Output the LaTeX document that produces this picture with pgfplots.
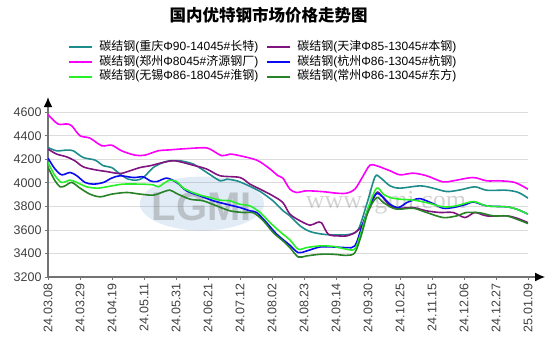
\documentclass[border=0pt]{standalone}
\usepackage{pgfplots}
\pgfplotsset{compat=1.18}
\usetikzlibrary{arrows.meta}
\usepackage{fontspec}
\setmainfont{Liberation Sans}
\newfontfamily\cjk{Noto Sans CJK SC}
\newfontfamily\wmfont{Liberation Serif}
\definecolor{cTeal}{RGB}{30,140,140}
\definecolor{cPurple}{RGB}{128,20,128}
\definecolor{cMag}{RGB}{250,0,250}
\definecolor{cBlue}{RGB}{10,10,240}
\definecolor{cLime}{RGB}{40,240,40}
\definecolor{cDkg}{RGB}{40,130,40}
\newcommand{\lw}{163pt}
\begin{document}
\begin{tikzpicture}
\path[use as bounding box] (0,0) rectangle (554pt,353pt);
\node[font=\cjk\bfseries\fontsize{16.5}{18}\selectfont] at (268.5pt,337.5pt) {国内优特钢市场价格走势图};
\begin{axis}[
  at={(48pt,76pt)}, anchor=south west,
  scale only axis, width=480pt, height=164.8pt,
  xmin=0, xmax=15, ymin=3200, ymax=4600,
  axis lines=left,
  axis line style={draw=black!55, line width=1.2pt},
  x axis line style={-{Latex[black,length=10pt,width=9pt]}, shorten >=-17pt},
  y axis line style={-{Latex[black,length=10pt,width=9pt]}, shorten >=-15pt},
  tick align=outside, major tick length=3pt,
  tick style={black!55, line width=0.8pt},
  ymajorgrids, grid style={black!14, line width=0.8pt},
  xtick={0,...,15},
  xticklabels={24.03.08,24.03.29,24.04.19,24.05.11,24.05.31,24.06.21,24.07.12,24.08.02,24.08.23,24.09.14,24.09.30,24.10.25,24.11.15,24.12.06,24.12.27,25.01.09},
  xticklabel style={rotate=90, anchor=east, font=\fontsize{12.5}{14}\selectfont, text=black!75},
  ytick={3200,3400,...,4600},
  yticklabel style={font=\fontsize{12.5}{14}\selectfont, text=black!75},
  /pgf/number format/assume math mode=true,
  /pgf/number format/1000 sep={},
  legend columns=2,
  legend style={draw=none, fill=none, at={(0.042,1.439)}, anchor=north west,
    font=\fontsize{12}{14}\selectfont, inner sep=0pt, row sep=0pt,
    nodes={inner sep=1pt, text height=9.5pt, text depth=3.2pt},
    /tikz/every odd column/.append style={column sep=5pt},
    /tikz/every even column/.append style={column sep=3pt}},
  legend image code/.code={\draw[#1, line width=2pt] (0pt,0pt) -- (23pt,0pt);},
  every axis plot/.append style={line width=1.6pt, smooth, tension=0.5},
]
% watermark
\fill[cyan!50!blue, opacity=0.13] (axis cs:4.81,3824) ellipse [x radius=62pt, y radius=27pt];
\node[text=gray, opacity=0.4, font=\bfseries\fontsize{40}{40}\selectfont] at (axis cs:4.81,3800) {LGMI};
\node[text=gray, opacity=0.35, font=\wmfont\fontsize{26}{26}\selectfont] at (axis cs:10.56,3833) {www.lgmi.com};

\addplot[cTeal] coordinates {(0,4300) (0.27,4272) (0.58,4278) (0.79,4272) (1.10,4215) (1.47,4193) (1.73,4145) (1.99,4130) (2.25,4074) (2.51,4031) (2.77,4023) (2.98,4045) (3.29,4130) (3.60,4173) (3.81,4187) (4.13,4187) (4.54,4159) (4.96,4088) (5.38,4017) (5.58,4031) (5.90,4017) (6.21,3983) (6.63,3926) (7.03,3847) (7.35,3762) (7.56,3719) (7.88,3634) (8.19,3586) (8.60,3563) (9.02,3557) (9.44,3563) (9.70,3606) (9.96,3818) (10.22,4051) (10.38,4045) (10.69,3974) (11.0,3955) (11.63,3974) (12.03,3955) (12.46,3926) (12.88,3940) (13.34,3966) (13.71,3937) (14.33,3937) (14.70,3918) (15,3870)};
\addlegendentry{\makebox[\lw][l]{{\cjk 碳结钢}({\cjk 重庆}Φ90-14045\#{\cjk 长特})}}

\addplot[cPurple] coordinates {(0,4287) (0.27,4244) (0.58,4221) (0.84,4187) (1.10,4136) (1.47,4111) (1.83,4096) (2.25,4079) (2.56,4102) (2.88,4130) (3.19,4145) (3.60,4173) (3.97,4187) (4.53,4150) (4.96,4117) (5.38,4060) (6.0,4045) (6.31,3989) (6.63,3946) (7.03,3889) (7.34,3832) (7.56,3734) (7.88,3677) (8.19,3640) (8.40,3662) (8.55,3660) (8.76,3563) (9.07,3549) (9.33,3549) (9.59,3577) (9.80,3634) (10.06,3790) (10.27,3918) (10.43,3889) (10.69,3804) (11.0,3784) (11.41,3790) (11.83,3762) (12.25,3748) (12.66,3748) (13.03,3705) (13.34,3748) (13.71,3719) (14.33,3719) (14.65,3700) (15,3662)};
\addlegendentry{\makebox[\lw][l]{{\cjk 碳结钢}({\cjk 天津}Φ85-13045\#{\cjk 本钢})}}

\addplot[cMag] coordinates {(0,4580) (0.31,4500) (0.58,4500) (0.74,4485) (1.0,4400) (1.31,4380) (1.68,4315) (1.99,4320) (2.30,4272) (2.72,4235) (3.03,4235) (3.44,4272) (3.81,4280) (4.13,4287) (4.84,4298) (5.06,4287) (5.43,4230) (5.69,4244) (6.0,4230) (6.52,4193) (6.88,4130) (7.19,4060) (7.34,4040) (7.56,3946) (7.77,3918) (8.08,3932) (8.59,3925) (9.02,3912) (9.33,3912) (9.59,3946) (9.85,4060) (10.06,4150) (10.27,4145) (10.69,4102) (11.0,4068) (11.41,4082) (11.83,4060) (12.34,4008) (12.66,4017) (13.28,4045) (13.71,4017) (14.13,4017) (14.59,4003) (15,3946)};
\addlegendentry{\makebox[\lw][l]{{\cjk 碳结钢}({\cjk 郑州}Φ8045\#{\cjk 济源钢厂})}}

\addplot[cBlue] coordinates {(0,4210) (0.22,4117) (0.43,4068) (0.69,4088) (0.90,4060) (1.16,4003) (1.42,3989) (1.73,4003) (1.99,4040) (2.25,4060) (2.67,4045) (2.98,4051) (3.19,4017) (3.40,4010) (3.71,4040) (4.02,4003) (4.33,3932) (4.75,3889) (5.17,3847) (5.58,3818) (6.0,3790) (6.31,3762) (6.52,3748) (6.83,3662) (7.15,3563) (7.56,3470) (7.82,3407) (8.08,3421) (8.5,3455) (8.92,3455) (9.33,3450) (9.59,3464) (9.80,3620) (10.06,3818) (10.27,3909) (10.48,3875) (10.69,3818) (10.95,3790) (11.21,3832) (11.41,3853) (11.63,3866) (12.03,3824) (12.35,3784) (12.66,3790) (13.08,3818) (13.29,3838) (13.71,3804) (14.33,3796) (14.65,3776) (15,3734)};
\addlegendentry{\makebox[\lw][l]{{\cjk 碳结钢}({\cjk 杭州}Φ86-13045\#{\cjk 杭钢})}}

\addplot[cLime] coordinates {(0,4173) (0.22,4060) (0.43,4003) (0.69,4023) (0.90,4003) (1.21,3966) (1.57,3955) (1.99,3974) (2.35,3989) (2.88,3989) (3.29,3983) (3.45,3966) (3.66,4003) (3.81,4023) (4.02,4010) (4.23,3955) (4.65,3904) (5.06,3875) (5.38,3853) (5.69,3847) (6.0,3818) (6.31,3804) (6.63,3748) (6.94,3662) (7.25,3585) (7.56,3515) (7.82,3436) (8.08,3450) (8.5,3464) (8.92,3460) (9.33,3436) (9.59,3440) (9.80,3591) (10.01,3790) (10.27,3955) (10.48,3904) (10.69,3875) (11.0,3861) (11.42,3853) (11.83,3832) (12.35,3796) (12.77,3805) (13.29,3841) (13.71,3804) (14.33,3796) (14.65,3776) (15,3734)};
\addlegendentry{\makebox[\lw][l]{{\cjk 碳结钢}({\cjk 无锡}Φ86-18045\#{\cjk 淮钢})}}

\addplot[cDkg] coordinates {(0,4130) (0.22,4017) (0.38,3966) (0.53,3974) (0.74,4003) (1.0,3955) (1.31,3904) (1.63,3881) (1.99,3904) (2.46,3918) (2.88,3904) (3.29,3895) (3.55,3918) (3.81,3938) (4.02,3909) (4.44,3861) (4.85,3847) (5.27,3804) (5.69,3762) (6.10,3748) (6.42,3745) (6.73,3677) (7.04,3577) (7.35,3505) (7.56,3450) (7.82,3370) (8.08,3379) (8.5,3393) (8.92,3393) (9.33,3384) (9.59,3407) (9.80,3563) (10.01,3762) (10.27,3875) (10.48,3832) (10.79,3784) (11.0,3776) (11.42,3784) (11.83,3748) (12.35,3705) (12.77,3719) (13.08,3748) (13.5,3745) (13.92,3719) (14.33,3719) (14.65,3691) (15,3654)};
\addlegendentry{\makebox[\lw][l]{{\cjk 碳结钢}({\cjk 常州}Φ86-13045\#{\cjk 东方})}}
\end{axis}
\end{tikzpicture}
\end{document}
